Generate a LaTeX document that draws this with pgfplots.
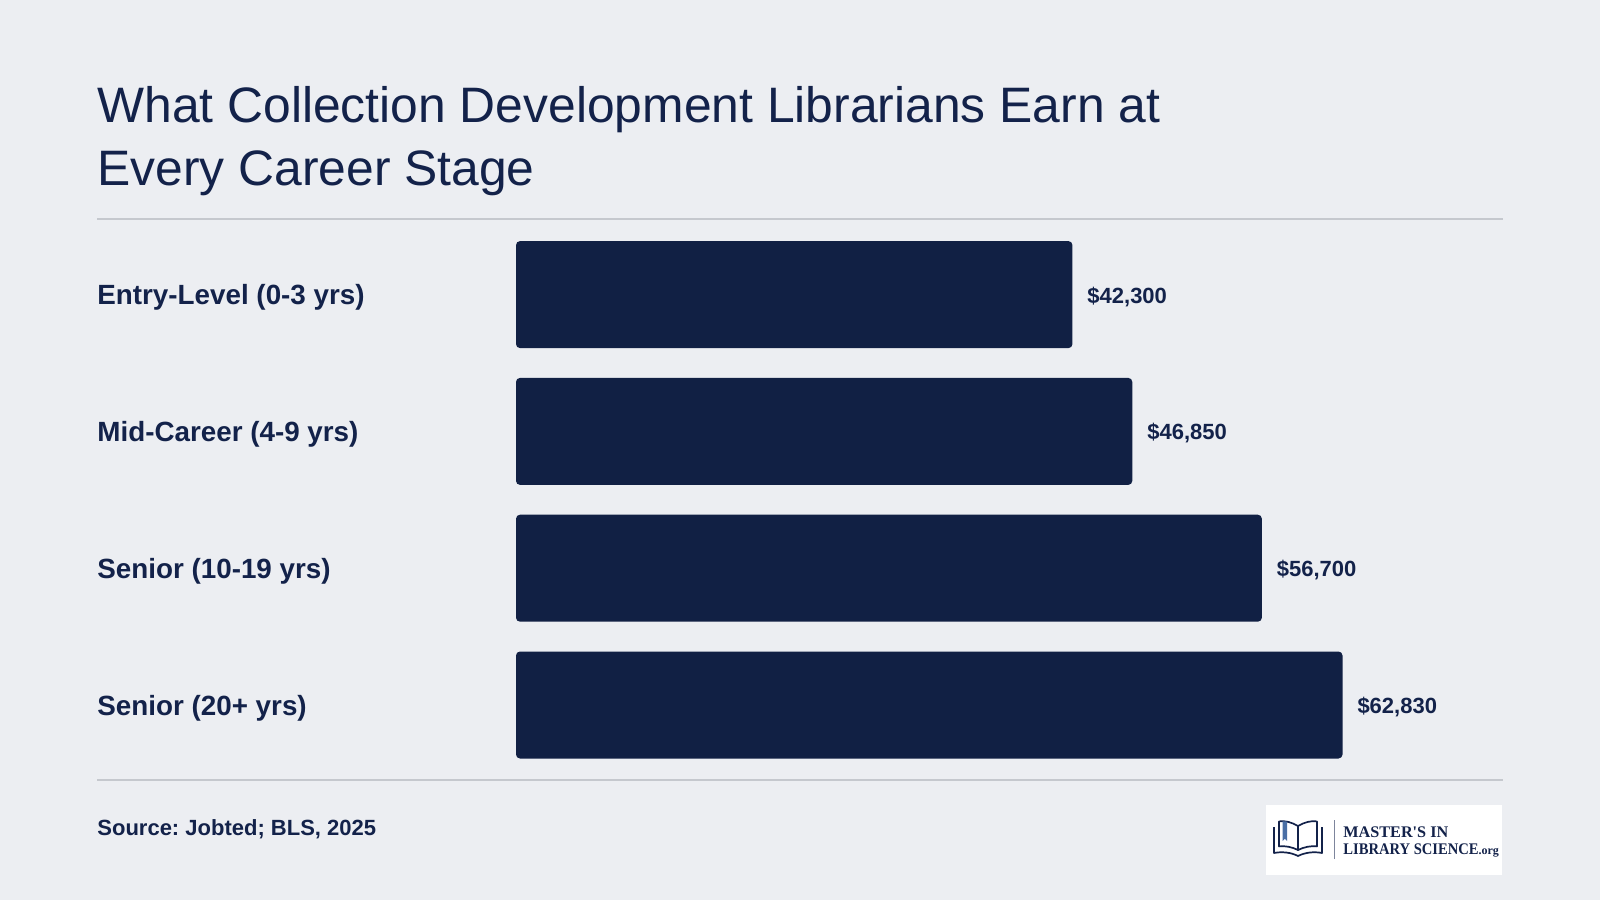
\documentclass[border=0pt]{standalone}
\usepackage{fontspec}
\setmainfont{Liberation Sans}
\newfontfamily\logofont{Liberation Serif}
\usepackage{pgfplots}
\pgfplotsset{compat=1.18}
\frenchspacing
\definecolor{bg}{HTML}{ECEEF2}
\definecolor{barc}{HTML}{112044}
\definecolor{txt}{HTML}{13224A}
\definecolor{rulec}{HTML}{C5C8CE}
\definecolor{bookmarkc}{HTML}{4A6FA5}
\begin{document}
\begin{tikzpicture}[x=1pt,y=1pt]
\fill[bg] (0,0) rectangle (800,450);
% title
\node[anchor=base west, inner sep=0, text=txt, font=\fontsize{24.9}{31}\selectfont] at (48.5,388.6) {What Collection Development Librarians Earn at};
\node[anchor=base west, inner sep=0, text=txt, font=\fontsize{24.9}{31}\selectfont] at (48.5,357.4) {Every Career Stage};
% rules
\draw[rulec, line width=1pt] (48.5,340.5) -- (751.5,340.5);
\draw[rulec, line width=1pt] (48.5,60) -- (751.5,60);
% chart
\begin{axis}[
  at={(258pt,63.3pt)}, anchor=south west,
  scale only axis, width=493.3pt, height=273.6pt,
  xmin=0, xmax=75000, ymin=-0.5, ymax=3.5,
  axis line style={draw=none},
  tick style={draw=none},
  major tick length=0pt,
  ytick={0,1,2,3},
  yticklabels={Senior (20+ yrs),Senior (10-19 yrs),Mid-Career (4-9 yrs),Entry-Level (0-3 yrs)},
  yticklabel style={anchor=west, xshift=-209.5pt, yshift=-1.5pt, inner sep=0pt, text=txt, font=\fontsize{13.9}{16}\selectfont\bfseries},
  xtick=\empty,
  clip=false,
]
\addplot[xbar, bar width=53.5pt, fill=barc, draw=none, rounded corners=2pt,
  point meta=explicit symbolic,
  nodes near coords,
  nodes near coords style={anchor=west, inner sep=0pt, xshift=7.3pt, yshift=-1pt, text=txt, font=\fontsize{11}{13}\selectfont\bfseries, rounded corners=0pt}]
coordinates {
(42300,3) [\$42,300]
(46850,2) [\$46,850]
(56700,1) [\$56,700]
(62830,0) [\$62,830]
};
\end{axis}
% source
\node[anchor=base west, inner sep=0, text=txt, font=\fontsize{11}{13}\selectfont\bfseries] at (48.5,32.5) {Source: Jobted; BLS, 2025};
% logo
\fill[white] (633,12.5) rectangle (751,47.5);
\begin{scope}[txt, line width=0.85pt, line join=round]
  % left page
  \draw (649,25) .. controls (646,26.5) and (642.5,27.2) .. (639.5,26.8) -- (639.5,39.3) .. controls (642.5,39.8) and (646,38.8) .. (649,37) -- cycle;
  % right page
  \draw (649,25) .. controls (652,26.5) and (655.5,27.2) .. (658.5,26.8) -- (658.5,39.3) .. controls (655.5,39.8) and (652,38.8) .. (649,37) -- cycle;
  % cover
  \draw (637,36.5) -- (637,23.5) .. controls (641,24.3) and (645.5,23.8) .. (649,22) .. controls (652.5,23.8) and (657,24.3) .. (661,23.5) -- (661,36.5);
\end{scope}
\fill[bookmarkc] (641.3,39.4) -- (641.3,29.5) -- (642.4,30.6) -- (643.5,29.5) -- (643.5,39.2) -- cycle;
\draw[txt!55, line width=0.5pt] (667,20.5) -- (667,40);
\node[anchor=base west, inner sep=0, text=txt, font=\logofont\bfseries\fontsize{8.1}{9}\selectfont] at (671.5,31.5) {MASTER'S IN};
\node[anchor=base west, inner sep=0, text=txt, font=\logofont\bfseries\fontsize{8.1}{9}\selectfont] at (671.5,23) {\scalebox{0.9}[1]{LIBRARY SCIENCE}{\fontsize{6}{7}\selectfont.org}};
\pgfresetboundingbox
\useasboundingbox (0,0) rectangle (800,450);
\end{tikzpicture}
\end{document}
